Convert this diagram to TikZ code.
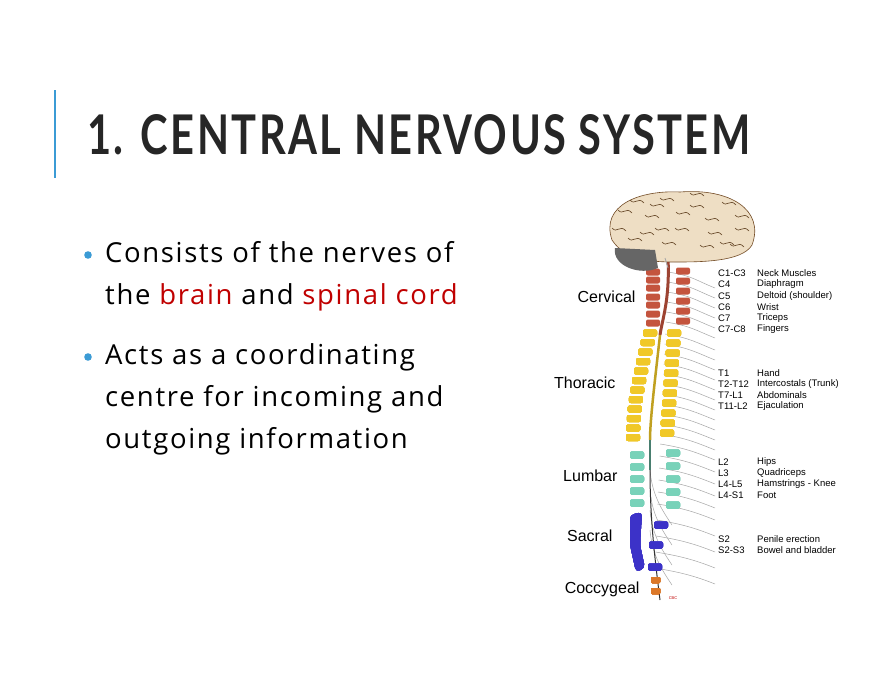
\documentclass[tikz,border=0pt]{standalone}
\usepackage{fontspec}
\setmainfont[LetterSpace=6]{Open Sans}
\newfontfamily\titelfont[LetterSpace=6]{Lato}
\newfontfamily\arial{Liberation Sans}
\usetikzlibrary{positioning}
\definecolor{accent}{RGB}{59,155,213}
\definecolor{titel}{RGB}{38,38,38}
\definecolor{rot}{RGB}{192,0,0}
\definecolor{cerv}{RGB}{196,84,62}
\definecolor{thor}{RGB}{240,200,40}
\definecolor{lumb}{RGB}{120,210,185}
\definecolor{sacr}{RGB}{60,50,200}
\definecolor{cocc}{RGB}{220,120,40}
\definecolor{hirn}{RGB}{238,222,196}
\newcommand{\wirbel}[3]{%
  \fill[#3,rounded corners=2pt] (#1-7,#2-3.5) rectangle (#1+7,#2+3.5);
}
\newcommand{\nerv}[3]{%
  \draw[gray!70,line width=0.5pt] (#1,#2) .. controls (#1+25,#2+4) and (#3-20,#2+8) .. (#3,#2+16);
}
\tikzset{
  region/.style={anchor=east,font=\arial\fontsize{16}{16}\selectfont},
  code/.style={anchor=west,font=\arial\fontsize{9.5}{9.5}\selectfont,inner sep=0pt},
  punkt/.style={font=\fontsize{27.5}{42}\selectfont,anchor=west,align=left,inner sep=0pt}
}
\begin{document}
\begin{tikzpicture}[x=1pt,y=-1pt]
\useasboundingbox (0,0) rectangle (880,680);
\fill[white] (0,0) rectangle (880,680);

% Titel
\draw[accent,line width=1.5pt] (55,90) -- (55,178);
\node[anchor=south west,inner sep=0pt,text=titel] (titel) at (87,155)
  {\resizebox{663pt}{40pt}{\titelfont\bfseries 1. CENTRAL NERVOUS SYSTEM}};

% Punkte
\fill[accent] (88,255) circle (3.8);
\node[punkt] (p1) at (105,276) {Consists of the nerves of\\the \textcolor{rot}{brain} and \textcolor{rot}{spinal cord}};
\fill[accent] (88,357) circle (3.8);
\node[punkt] (p2) at (105,399) {Acts as a coordinating\\centre for incoming and\\outgoing information};

% Nerven
\foreach \y [count=\i] in {272,282,292,302,312,322,334,344,354,364,374,384,394,404,414,424,434,444,456,468,480,492,504,520,536,552,568}
  {\pgfmathsetmacro{\cx}{668-0.045*(\y-270)}
   \nerv{\cx}{\y}{715}}
\foreach \y in {470,490,510,530}
  \draw[gray!70,line width=0.5pt] (650,\y) .. controls (652,\y+25) and (662,\y+40) .. (672,\y+55);

% Rueckenmark
\draw[cerv!80!black,line width=3pt] (668,258) .. controls (670,300) and (662,320) .. (660,335);
\draw[thor!80!black,line width=2.5pt] (660,335) .. controls (655,380) and (650,420) .. (650,440);
\draw[lumb!60!black,line width=2pt] (650,440) -- (650,470);
\draw[black!80,line width=1pt] (650,470) .. controls (650,520) and (655,560) .. (660,600);

% Wirbel links
\foreach \y in {272,280,288,297,305,314,323} \wirbel{653}{\y}{cerv}
\foreach \i in {0,...,11}
  {\pgfmathsetmacro{\yy}{333+\i*9.5}\pgfmathsetmacro{\xx}{650-17*sin(\i*8)}
   \wirbel{\xx}{\yy}{thor}}
\foreach \i in {0,...,4}
  {\pgfmathsetmacro{\yy}{455+\i*12}\wirbel{637}{\yy}{lumb}}
\fill[sacr,rounded corners=4pt] (630,515) -- (642,512) -- (640,545) -- (645,568) -- (636,572) -- (630,545) -- cycle;
% Wirbel rechts
\foreach \y in {271,281,291,301,311,321} \wirbel{683}{\y}{cerv}
\foreach \i in {0,...,10}
  {\pgfmathsetmacro{\yy}{333+\i*10}\pgfmathsetmacro{\xx}{674-0.07*\i*10}
   \wirbel{\xx}{\yy}{thor}}
\foreach \i in {0,...,4}
  {\pgfmathsetmacro{\yy}{453+\i*13}\wirbel{673}{\yy}{lumb}}
\foreach \y/\x in {525/661,545/656,567/655} \wirbel{\x}{\y}{sacr}
\foreach \y in {580,591} \fill[cocc,rounded corners=1pt] (651,\y-3) rectangle (660,\y+3);
\node[text=rot,font=\arial\fontsize{4}{4}\selectfont] (sig) at (673,598) {CBC};

% Gehirn
\filldraw[fill=hirn,draw=brown!60!black,line width=0.6pt]
  (612,240) .. controls (600,205) and (640,190) .. (680,192)
  .. controls (730,188) and (765,210) .. (752,245)
  .. controls (742,262) and (700,262) .. (675,262)
  .. controls (650,262) and (625,260) .. (612,240) -- cycle;
\fill[black!60] (615,248) .. controls (612,266) and (640,276) .. (658,268) -- (655,250) -- cycle;
\foreach \a/\b in {618/210,630/200,645/215,660/198,675/228,690/205,705/218,722/202,735/228,700/245,662/242,640/232,720/242,690/193,612/228,628/238,650/204,676/212,735/215,730/244,708/232,655/228}
  \draw[brown!50!black,line width=0.6pt] (\a,\b) .. controls (\a+5,\b+6) and (\a+8,\b-4) .. (\a+14,\b+3);
\draw[gray!70,line width=0.8pt] (665,258) -- (668,268);

% Regionen
\node[region] (cerv) at (639,297) {Cervical};
\node[region] (thor) at (619,383) {Thoracic};
\node[region] (lumb) at (621,476) {Lumbar};
\node[region] (sacr) at (616,536) {Sacral};
\node[region] (cocc) at (643,589) {Coccygeal};

% Tabelle
\foreach \y/\c/\d in {273/C1-C3/Neck Muscles,284/C4/Diaphragm,296/C5/Deltoid (shoulder),307/C6/Wrist,318/C7/Triceps,329/C7-C8/Fingers,
  373/T1/Hand,384/T2-T12/Intercostals (Trunk),395/T7-L1/Abdominals,406/T11-L2/Ejaculation,
  462/L2/Hips,473/L3/Quadriceps,484/L4-L5/Hamstrings - Knee,495/L4-S1/Foot,
  539/S2/Penile erection,550/S2-S3/Bowel and bladder}
  {\node[code] at (718,\y) {\c};
   \node[code] at (757,\y) {\d};}
\end{tikzpicture}
\end{document}
